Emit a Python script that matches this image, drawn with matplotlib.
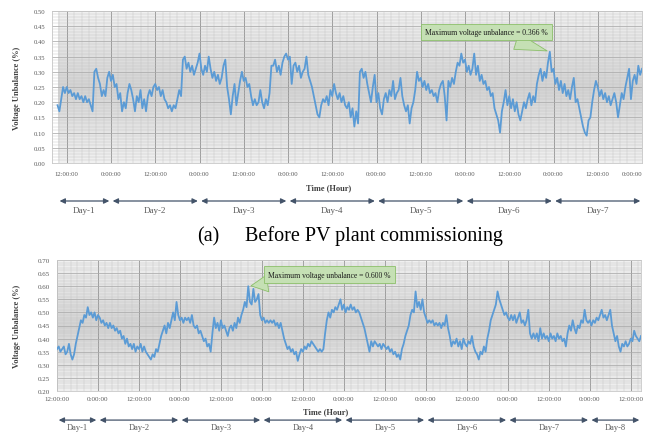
#!/usr/bin/env python3
"""Voltage unbalance over a week, before/after PV plant commissioning."""
import numpy as np
import matplotlib
matplotlib.use("Agg")
import matplotlib.pyplot as plt
from matplotlib.colors import LinearSegmentedColormap

plt.rcParams["font.family"] = ["Liberation Serif", "DejaVu Serif"]

BLUE, ARROW, TXT, GREEN, GREEN_EDGE = "#5b9bd5", "#44546a", "#595959", "#c5e0b4", "#8cbf6a"

# ---- data: voltage unbalance (%) every 30 min, hours counted from first 12:00 tick
start_a = -2.5
unb_a = [
    0.19, 0.17, 0.21, 0.25, 0.23,
    0.25, 0.23, 0.24, 0.22, 0.23, 0.21, 0.23, 0.21, 0.22, 0.20, 0.22, 0.20,
    0.21, 0.19, 0.17, 0.30, 0.31, 0.28, 0.26, 0.22, 0.24, 0.22, 0.28, 0.30,
    0.27, 0.29, 0.25, 0.26, 0.21, 0.23, 0.17, 0.20, 0.18, 0.23, 0.26, 0.24,
    0.21, 0.17, 0.22, 0.20, 0.24, 0.18, 0.21, 0.17, 0.22, 0.24, 0.22, 0.25,
    0.26, 0.24, 0.25, 0.22, 0.24, 0.21, 0.20, 0.18, 0.19, 0.17, 0.19, 0.18,
    0.21, 0.24, 0.22, 0.34, 0.35, 0.31, 0.33, 0.30, 0.32, 0.29, 0.31, 0.33,
    0.36, 0.31, 0.29, 0.32, 0.30, 0.35, 0.31, 0.28, 0.30, 0.27, 0.29, 0.26,
    0.28, 0.32, 0.34, 0.25, 0.21, 0.16, 0.22, 0.26, 0.19, 0.23, 0.27, 0.30,
    0.27, 0.28, 0.25, 0.26, 0.22, 0.19, 0.21, 0.19, 0.20, 0.24, 0.20, 0.18,
    0.21, 0.19, 0.23, 0.32, 0.32, 0.34, 0.30, 0.32, 0.29, 0.33, 0.35, 0.36,
    0.34, 0.35, 0.26, 0.32, 0.33, 0.30, 0.32, 0.28, 0.30, 0.31, 0.35, 0.29,
    0.27, 0.25, 0.22, 0.19, 0.16, 0.15, 0.19, 0.21, 0.20, 0.22, 0.19, 0.24,
    0.22, 0.26, 0.23, 0.21, 0.23, 0.20, 0.22, 0.19, 0.18, 0.20, 0.15, 0.18,
    0.12, 0.17, 0.13, 0.30, 0.31, 0.28, 0.30, 0.26, 0.23, 0.20, 0.25, 0.29,
    0.20, 0.23, 0.18, 0.16, 0.21, 0.23, 0.20, 0.24, 0.22, 0.27, 0.21, 0.23,
    0.24, 0.28, 0.22, 0.19, 0.17, 0.19, 0.13, 0.18, 0.20, 0.24, 0.30, 0.27,
    0.28, 0.25, 0.27, 0.24, 0.26, 0.23, 0.24, 0.22, 0.23, 0.20, 0.24, 0.26,
    0.27, 0.22, 0.14, 0.27, 0.25, 0.28, 0.26, 0.30, 0.33, 0.32, 0.36, 0.33,
    0.34, 0.30, 0.32, 0.29, 0.31, 0.36, 0.29, 0.32, 0.27, 0.29, 0.26, 0.27,
    0.24, 0.25, 0.22, 0.23, 0.18, 0.16, 0.14, 0.10, 0.17, 0.20, 0.24, 0.19,
    0.22, 0.18, 0.21, 0.17, 0.20, 0.16, 0.14, 0.17, 0.20, 0.18, 0.21, 0.23,
    0.19, 0.22, 0.20, 0.26, 0.29, 0.31, 0.27, 0.30, 0.28, 0.33, 0.366, 0.30,
    0.31, 0.26, 0.28, 0.24, 0.27, 0.23, 0.26, 0.22, 0.24, 0.21, 0.25, 0.28,
    0.20, 0.21, 0.18, 0.15, 0.12, 0.10, 0.09, 0.14, 0.15, 0.20, 0.24, 0.27,
    0.25, 0.22, 0.24, 0.21, 0.23, 0.20, 0.22, 0.19, 0.21, 0.23, 0.20, 0.15,
    0.19, 0.23, 0.21, 0.25, 0.28, 0.31, 0.21, 0.27, 0.29, 0.26, 0.32, 0.29,
    0.31,
]
start_b = 0.0
unb_b = [
    0.36, 0.37, 0.35, 0.36, 0.37, 0.34, 0.35, 0.38, 0.34, 0.32, 0.34, 0.38,
    0.41, 0.44, 0.47, 0.46, 0.49, 0.48, 0.52, 0.49, 0.50, 0.48, 0.50, 0.47,
    0.49, 0.48, 0.46, 0.47, 0.45, 0.46, 0.44, 0.46, 0.44, 0.45, 0.43, 0.44,
    0.42, 0.43, 0.40, 0.41, 0.38, 0.40, 0.37, 0.38, 0.36, 0.38, 0.35, 0.37,
    0.36, 0.38, 0.35, 0.37, 0.35, 0.34, 0.33, 0.32, 0.34, 0.33, 0.36, 0.35,
    0.38, 0.41, 0.43, 0.45, 0.42, 0.46, 0.44, 0.47, 0.50, 0.47, 0.54, 0.49,
    0.47, 0.48, 0.46, 0.48, 0.47, 0.48, 0.46, 0.49, 0.45, 0.44, 0.45, 0.42,
    0.43, 0.41, 0.39, 0.40, 0.37, 0.38, 0.35, 0.42, 0.48, 0.44, 0.46, 0.43,
    0.47, 0.44, 0.45, 0.43, 0.41, 0.44, 0.45, 0.43, 0.46, 0.44, 0.48, 0.46,
    0.49, 0.51, 0.54, 0.52, 0.60, 0.54, 0.53, 0.59, 0.54, 0.55, 0.57, 0.49,
    0.47, 0.48, 0.46, 0.47, 0.46, 0.47, 0.46, 0.47, 0.45, 0.46, 0.44, 0.46,
    0.43, 0.40, 0.38, 0.36, 0.37, 0.35, 0.36, 0.34, 0.35, 0.315, 0.34, 0.36,
    0.35, 0.37, 0.36, 0.38, 0.37, 0.39, 0.38, 0.37, 0.36, 0.35, 0.36, 0.35,
    0.36, 0.42, 0.47, 0.50, 0.48, 0.51, 0.50, 0.52, 0.51, 0.53, 0.55, 0.51,
    0.53, 0.50, 0.52, 0.51, 0.53, 0.51, 0.52, 0.50, 0.51, 0.50, 0.48, 0.46,
    0.44, 0.41, 0.38, 0.35, 0.39, 0.37, 0.39, 0.38, 0.37, 0.38, 0.36, 0.38,
    0.37, 0.36, 0.37, 0.35, 0.36, 0.34, 0.35, 0.33, 0.34, 0.32, 0.36, 0.38,
    0.41, 0.43, 0.45, 0.49, 0.51, 0.50, 0.58, 0.52, 0.54, 0.51, 0.55, 0.50,
    0.48, 0.46, 0.47, 0.46, 0.47, 0.45, 0.46, 0.45, 0.46, 0.44, 0.46, 0.45,
    0.49, 0.44, 0.41, 0.37, 0.39, 0.38, 0.40, 0.37, 0.39, 0.36, 0.40, 0.38,
    0.37, 0.39, 0.38, 0.41, 0.37, 0.35, 0.34, 0.32, 0.35, 0.34, 0.37, 0.35,
    0.40, 0.43, 0.47, 0.49, 0.51, 0.53, 0.58, 0.55, 0.53, 0.51, 0.49, 0.50,
    0.48, 0.47, 0.49, 0.47, 0.49, 0.46, 0.48, 0.50, 0.46, 0.47, 0.45, 0.47,
    0.51, 0.42, 0.40, 0.42, 0.40, 0.42, 0.39, 0.44, 0.40, 0.42, 0.40, 0.41,
    0.39, 0.42, 0.40, 0.41, 0.39, 0.42, 0.40, 0.41, 0.39, 0.40, 0.37, 0.42,
    0.45, 0.43, 0.47, 0.44, 0.42, 0.45, 0.44, 0.47, 0.46, 0.51, 0.47, 0.46,
    0.47, 0.45, 0.47, 0.46, 0.48, 0.47, 0.49, 0.51, 0.48, 0.49, 0.47, 0.49,
    0.51, 0.45, 0.42, 0.39, 0.41, 0.37, 0.35, 0.38, 0.37, 0.39, 0.37, 0.38,
    0.40, 0.39, 0.43, 0.41, 0.40, 0.39, 0.41,
]
hours_a = start_a + 0.5 * np.arange(len(unb_a))
hours_b = start_b + 0.5 * np.arange(len(unb_b))

ticklabels_a = ["12:00:00", "0:00:00"] * 7
ticklabels_b = (["12:00:00", "0:00:00"] * 8)[:15]
days_a = ["Day-1", "Day-2", "Day-3", "Day-4", "Day-5", "Day-6", "Day-7"]
days_b = days_a + ["Day-8"]

shade = LinearSegmentedColormap.from_list("shade", ["#f1f1f1", "#d3d3d3", "#f1f1f1"])


def panel(ax, hours, vals, xlim, ylim, ticklabels, days, note, note_pos,
          tfs, tpad, lab_xy, arr_y, day_y, day_fs):
    ax.imshow(np.linspace(0, 1, 256).reshape(-1, 1), cmap=shade, aspect="auto",
              extent=[*xlim, *ylim], zorder=0)
    ax.set_xlim(xlim)
    ax.set_ylim(ylim)
    ticks = 12 * np.arange(len(ticklabels))
    ax.set_xticks(ticks)
    ax.set_xticklabels(ticklabels)
    if ticks[-1] >= xlim[1] - 1:
        ax.get_xticklabels()[-1].set_horizontalalignment("right")
    ax.set_yticks(np.arange(ylim[0], ylim[1] + 0.001, 0.05))
    ax.yaxis.set_major_formatter(matplotlib.ticker.FormatStrFormatter("%.2f"))
    ax.set_xticks(np.arange(xlim[0] // 2 * 2, xlim[1], 2), minor=True)
    ax.set_yticks(np.arange(ylim[0], ylim[1], 0.01), minor=True)
    ax.grid(which="minor", color="#c2c2c2", lw=0.3)
    ax.grid(axis="y", which="major", color="#ababab", lw=0.55)
    ax.grid(axis="x", which="major", color="#8f8f8f", lw=0.6)
    ax.set_axisbelow(True)
    ax.tick_params(which="both", length=0, labelsize=tfs, colors=TXT)
    ax.tick_params(axis="x", pad=tpad)
    ax.tick_params(axis="y", pad=5)
    for s in ax.spines.values():
        s.set_color("#c8c8c8")
        s.set_linewidth(0.6)

    ax.plot(hours, vals, color=BLUE, lw=1.3, zorder=3)

    i = int(np.argmax(vals))
    ax.annotate(note, xy=(hours[i], vals[i]), xytext=note_pos, textcoords="axes fraction",
                ha="center", va="center", fontsize=5.5, color="#1a1a1a", zorder=5,
                bbox=dict(boxstyle="square,pad=0.55", fc=GREEN, ec=GREEN_EDGE, lw=0.6),
                arrowprops=dict(arrowstyle="wedge,tail_width=2.2,shrink_factor=0.5",
                                fc=GREEN, ec=GREEN_EDGE, lw=0.6))

    ax.text(lab_xy[0], lab_xy[1], "Time (Hour)", transform=ax.transAxes, ha="center",
            va="center", fontsize=6, fontweight="bold", color="#404040")

    # day spans between midnights
    edges = [xlim[0]] + list(ticks[1::2])
    if edges[-1] < xlim[1] - 1:
        edges.append(xlim[1])
    tr = ax.get_xaxis_transform()
    for d, (e0, e1) in zip(days, zip(edges[:-1], edges[1:])):
        ax.annotate("", xy=(e1, arr_y), xytext=(e0, arr_y), xycoords=tr,
                    arrowprops=dict(arrowstyle="<|-|>,head_length=0.45,head_width=0.22",
                                    color=ARROW, lw=0.9, shrinkA=1.2, shrinkB=1.2,
                                    mutation_scale=7),
                    annotation_clip=False)
        ax.text((e0 + e1) / 2, day_y, d, transform=tr, ha="center", va="top",
                fontsize=day_fs, color=TXT)


fig = plt.figure(figsize=(6.5, 4.35), dpi=100)
W, H = 650, 435
ax1 = fig.add_axes([52 / W, 1 - 164 / H, 590 / W, 152 / H])
ax2 = fig.add_axes([57 / W, 1 - 392 / H, 584 / W, 131 / H])

panel(ax1, hours_a, unb_a, (-2.4, 156), (0.0, 0.50), ticklabels_a, days_a,
      "Maximum voltage unbalance = 0.366 %", (0.736, 0.862), 4.8, 6,
      (0.469, -0.158), -0.25, -0.285, 6.5)
panel(ax2, hours_b, unb_b, (0, 171), (0.20, 0.70), ticklabels_b, days_b,
      "Maximum voltage unbalance = 0.600 %", (0.467, 0.889), 5.0, 3.5,
      (0.46, -0.153), -0.222, -0.245, 6)

for yc in (1 - 88 / H, 1 - 326 / H):
    fig.text(17 / W, yc, "Voltage Unbalance (%)", rotation=90, ha="center",
             va="center", fontsize=6, fontweight="bold", color="#404040")

fig.text(197 / W, 1 - 241 / H, "(a)", fontsize=14.5, va="baseline")
fig.text(245 / W, 1 - 241 / H, "Before PV plant commissioning", fontsize=14.5,
         va="baseline")

fig.savefig("out.png", dpi=100)
